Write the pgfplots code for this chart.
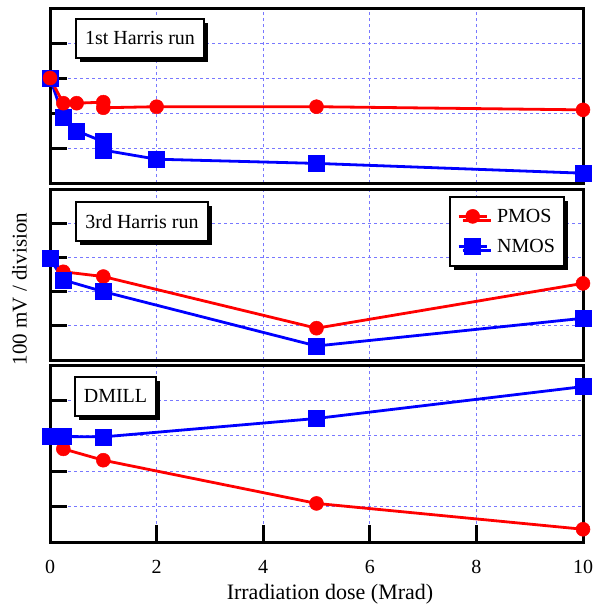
\documentclass[border=0pt]{standalone}
\usepackage{fontspec}
\setmainfont{Liberation Serif}
\usepackage{pgfplots}
\pgfplotsset{compat=1.18}
\usetikzlibrary{shadows}
\newcommand{\bigf}{\fontsize{20}{24}\selectfont}
\pgfplotsset{
  panel/.style={
    scale only axis, width=533pt,
    xmin=0, xmax=10, ymin=0, ymax=5,
    clip=false,
    axis line style={line width=3pt, black},
    ytick={1,2,3,4}, yticklabels={},
    grid=major,
    major grid style={color={rgb,255:red,120;green,120;blue,255}, line width=1pt, dash pattern=on 3pt off 3pt},
    major tick length=17pt,
    tick style={black, line width=3pt},
    tick pos=left, tick align=inside,
    /pgf/number format/assume math mode=true,
    tick label style={font=\bigf},
  },
  pm/.style={red, line width=2.8pt, mark=*, mark size=7pt, mark options={solid, fill=red, draw=red, line width=0.5pt}},
  nm/.style={blue, line width=2.8pt, mark=square*, mark size=8pt, mark options={solid, fill=blue, draw=blue, line width=0.5pt}},
}
\tikzset{lab/.style={draw=black, line width=2pt, fill=white, font=\bigf, inner xsep=8.5pt, minimum height=39pt,
  drop shadow={shadow xshift=4pt, shadow yshift=-4pt, fill=black, opacity=1}}}
\begin{document}
\begin{tikzpicture}[font=\bigf]
\path[use as bounding box] (0,0) rectangle (595pt,-605pt);
% panel 1
\begin{axis}[panel, height=175pt, at={(50pt,-183pt)}, anchor=south west,
  xtick={2,4,6,8}, xticklabels={}, xtick style={draw=none}]
\addplot[nm] coordinates {(0,3.0) (0.25,1.89) (0.5,1.49) (1,1.18) (1,0.94) (2,0.68) (5,0.56) (10,0.28)};
\addplot[pm] coordinates {(0,3.0) (0.25,2.28) (0.5,2.28) (1,2.31) (1,2.15) (2,2.18) (5,2.18) (10,2.09)};
\end{axis}
% panel 2
\begin{axis}[panel, height=171pt, at={(50pt,-360pt)}, anchor=south west,
  xtick={2,4,6,8}, xticklabels={}, xtick style={draw=none},
  legend cell align=left,
  legend style={at={(0.966,0.959)}, anchor=north east, draw=black, line width=2pt, fill=white, font=\bigf,
    inner xsep=7pt, inner ysep=10pt, row sep=11pt, column sep=7pt,
    drop shadow={shadow xshift=4pt, shadow yshift=-4pt, fill=black, opacity=1}},
  legend image code/.code={\draw[mark repeat=2, mark phase=2] plot coordinates {(0pt,0pt) (14pt,0pt) (28pt,0pt)};}]
\addplot[pm] coordinates {(0,2.97) (0.25,2.58) (1,2.44) (5,0.93) (10,2.24)};
\addlegendentry{PMOS}
\addplot[nm] coordinates {(0,2.97) (0.25,2.34) (1,2.0) (5,0.41) (10,1.22)};
\addlegendentry{NMOS}
\end{axis}
% panel 3
\begin{axis}[panel, height=177pt, at={(50pt,-542pt)}, anchor=south west,
  xtick={0,2,4,6,8,10}, xticklabels={0,2,4,6,8,10},
  xticklabel style={yshift=-15pt}]
\addplot[pm] coordinates {(0,3.0) (0.25,2.63) (1,2.31) (5,1.09) (10,0.36)};
\addplot[nm] coordinates {(0,2.98) (0.25,2.98) (1,2.97) (5,3.49) (10,4.39)};
\end{axis}
\node[lab, minimum width=128pt] at (140pt,-38pt) {1st Harris run};
\node[lab, minimum width=132pt] at (142pt,-221.7pt) {3rd Harris run};
\node[lab, minimum width=79pt] at (115.5pt,-396pt) {DMILL};
\node[rotate=90, anchor=center, font=\fontsize{21}{25}\selectfont] at (19.5pt,-289pt) {100 mV / division};
\node[anchor=base, font=\fontsize{22}{26}\selectfont] at (330pt,-599pt) {Irradiation dose (Mrad)};
\end{tikzpicture}
\end{document}
